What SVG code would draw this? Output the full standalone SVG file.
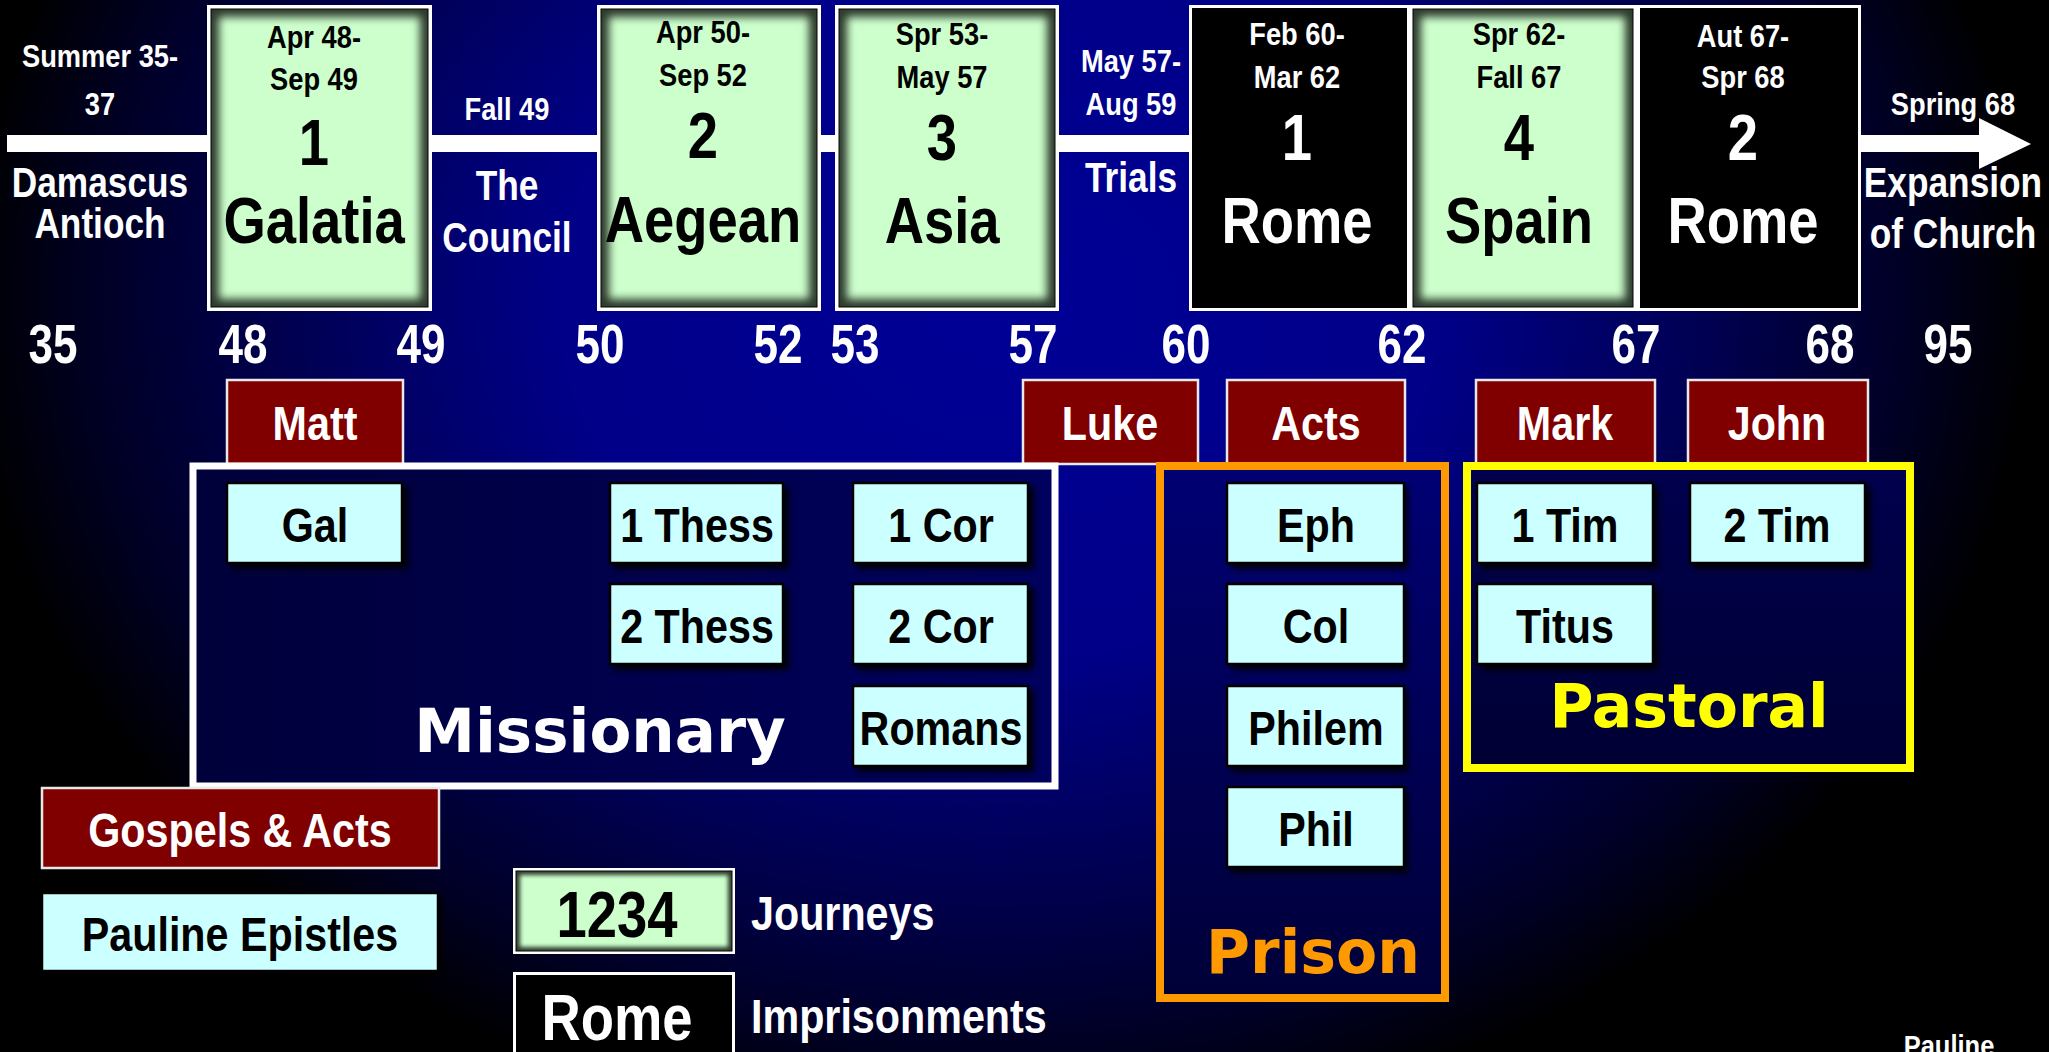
<svg xmlns="http://www.w3.org/2000/svg" width="2049" height="1052" viewBox="0 0 2049 1052">
<defs>
  <radialGradient id="bg" gradientUnits="userSpaceOnUse" cx="1000" cy="300" r="1100" gradientTransform="translate(1000,300) scale(1,0.82) translate(-1000,-300)">
    <stop offset="0" stop-color="#000096"/>
    <stop offset="0.4" stop-color="#000088"/>
    <stop offset="0.65" stop-color="#000050"/>
    <stop offset="0.82" stop-color="#000026"/>
    <stop offset="0.94" stop-color="#000000"/>
  </radialGradient>
  <linearGradient id="gMiss" x1="0" y1="0" x2="1" y2="0">
    <stop offset="0" stop-color="#00003a"/>
    <stop offset="1" stop-color="#00005e"/>
  </linearGradient>
  <linearGradient id="gPris" x1="0" y1="0" x2="0" y2="1">
    <stop offset="0" stop-color="#000074"/>
    <stop offset="1" stop-color="#000038"/>
  </linearGradient>
  <linearGradient id="gPast" x1="0" y1="0" x2="0" y2="1">
    <stop offset="0" stop-color="#00004e"/>
    <stop offset="1" stop-color="#000034"/>
  </linearGradient>
  <filter id="soft" x="-10%" y="-10%" width="120%" height="120%">
    <feGaussianBlur stdDeviation="4"/>
  </filter>
  <filter id="soft2" x="-10%" y="-10%" width="120%" height="120%">
    <feGaussianBlur stdDeviation="2"/>
  </filter>
  <filter id="shadow" x="-10%" y="-10%" width="130%" height="130%">
    <feGaussianBlur stdDeviation="3"/>
  </filter>
  <style>
    .n{font-family:"Liberation Sans",Arial,sans-serif;font-weight:bold;text-anchor:middle;transform-box:fill-box;transform-origin:center}
    .w{fill:#ffffff}
    .k{fill:#000000}
    .d{font-size:31px;transform:scaleX(0.88)}
    .big{font-size:64px;transform:scaleX(0.85)}
    .lab{font-size:42px;transform:scaleX(0.84)}
    .yr{font-size:55px;fill:#ffffff;transform:scaleX(0.8)}
    .bk{font-size:48px;transform:scaleX(0.86)}
    .st{text-anchor:start;transform-origin:left center}
    .grp{font-family:"DejaVu Sans",Verdana,sans-serif;font-weight:bold;text-anchor:middle}
    .white{fill:#ffffff}
    .dark{fill:#2d3b2d;stroke:#000;stroke-width:1}
    .green{fill:#ccffcc}
    .gos{fill:#800000;stroke:#e8e8e8;stroke-width:2.5}
    .ep{fill:#ccffff;stroke:#000;stroke-width:2.5}
    .sh{fill:#000;opacity:0.9}
    .jail{fill:#000;stroke:#fff;stroke-width:3}
  </style>
</defs>

<rect x="0" y="0" width="2049" height="1052" fill="url(#bg)"/>

<g id="connectors">
  <rect x="7" y="135" width="1975" height="17" fill="#ffffff"/>
  <polygon points="1979,118 2031,144 1979,169" fill="#ffffff"/>
</g>

<!-- period labels along timeline -->
<g id="period-early">
  <text class="n w d" x="100" y="67">Summer 35-</text>
  <text class="n w d" x="100" y="115">37</text>
  <text class="n w lab" x="100" y="197">Damascus</text>
  <text class="n w lab" x="100" y="238">Antioch</text>
</g>
<g id="period-council">
  <text class="n w d" x="507" y="120">Fall 49</text>
  <text class="n w lab" x="507" y="200">The</text>
  <text class="n w lab" x="507" y="252">Council</text>
</g>
<g id="period-trials">
  <text class="n w d" x="1131" y="72">May 57-</text>
  <text class="n w d" x="1131" y="115">Aug 59</text>
  <text class="n w lab" x="1131" y="192">Trials</text>
</g>
<g id="period-expansion">
  <text class="n w d" x="1953" y="115">Spring 68</text>
  <text class="n w lab" x="1953" y="197">Expansion</text>
  <text class="n w lab" x="1953" y="248">of Church</text>
</g>

<!-- journeys -->
<g id="journey1">
  <rect class="white" x="207" y="5" width="225" height="306"/>
  <rect class="dark" x="211" y="9" width="217" height="298"/>
  <rect class="green" x="219" y="17" width="201" height="282" filter="url(#soft)"/>
  <text class="n k d" x="314" y="48">Apr 48-</text>
  <text class="n k d" x="314" y="90">Sep 49</text>
  <text class="n k big" x="314" y="165">1</text>
  <text class="n k big" x="314" y="243">Galatia</text>
</g>
<g id="journey2">
  <rect class="white" x="597" y="5" width="224" height="306"/>
  <rect class="dark" x="601" y="9" width="216" height="298"/>
  <rect class="green" x="609" y="17" width="200" height="282" filter="url(#soft)"/>
  <text class="n k d" x="703" y="43">Apr 50-</text>
  <text class="n k d" x="703" y="86">Sep 52</text>
  <text class="n k big" x="703" y="158">2</text>
  <text class="n k big" x="703" y="242">Aegean</text>
</g>
<g id="journey3">
  <rect class="white" x="835" y="5" width="224" height="306"/>
  <rect class="dark" x="839" y="9" width="216" height="298"/>
  <rect class="green" x="847" y="17" width="200" height="282" filter="url(#soft)"/>
  <text class="n k d" x="942" y="45">Spr 53-</text>
  <text class="n k d" x="942" y="88">May 57</text>
  <text class="n k big" x="942" y="160">3</text>
  <text class="n k big" x="942" y="243">Asia</text>
</g>
<g id="rome1">
  <rect class="jail" x="1190.5" y="6.5" width="218" height="303"/>
  <text class="n w d" x="1297" y="45">Feb 60-</text>
  <text class="n w d" x="1297" y="88">Mar 62</text>
  <text class="n w big" x="1297" y="160">1</text>
  <text class="n w big" x="1297" y="243">Rome</text>
</g>
<g id="journey4">
  <rect class="white" x="1409" y="5" width="228" height="306"/>
  <rect class="dark" x="1413" y="9" width="220" height="298"/>
  <rect class="green" x="1421" y="17" width="204" height="282" filter="url(#soft)"/>
  <text class="n k d" x="1519" y="45">Spr 62-</text>
  <text class="n k d" x="1519" y="88">Fall 67</text>
  <text class="n k big" x="1519" y="160">4</text>
  <text class="n k big" x="1519" y="243">Spain</text>
</g>
<g id="rome2">
  <rect class="jail" x="1638.5" y="6.5" width="221" height="303"/>
  <text class="n w d" x="1743" y="47">Aut 67-</text>
  <text class="n w d" x="1743" y="88">Spr 68</text>
  <text class="n w big" x="1743" y="160">2</text>
  <text class="n w big" x="1743" y="243">Rome</text>
</g>

<!-- years -->
<g id="years">
  <text class="n yr" x="53" y="363">35</text>
  <text class="n yr" x="243" y="363">48</text>
  <text class="n yr" x="421" y="363">49</text>
  <text class="n yr" x="600" y="363">50</text>
  <text class="n yr" x="778" y="363">52</text>
  <text class="n yr" x="855" y="363">53</text>
  <text class="n yr" x="1033" y="363">57</text>
  <text class="n yr" x="1186" y="363">60</text>
  <text class="n yr" x="1402" y="363">62</text>
  <text class="n yr" x="1636" y="363">67</text>
  <text class="n yr" x="1830" y="363">68</text>
  <text class="n yr" x="1948" y="363">95</text>
</g>

<!-- gospels -->
<g id="matt"><rect class="gos" x="227" y="380" width="176" height="84"/><text class="n w bk" x="315" y="440">Matt</text></g>
<g id="luke"><rect class="gos" x="1023" y="380" width="175" height="84"/><text class="n w bk" x="1110" y="440">Luke</text></g>
<g id="acts"><rect class="gos" x="1227" y="380" width="178" height="84"/><text class="n w bk" x="1316" y="440">Acts</text></g>
<g id="mark"><rect class="gos" x="1476" y="380" width="179" height="84"/><text class="n w bk" x="1565" y="440">Mark</text></g>
<g id="john"><rect class="gos" x="1688" y="380" width="180" height="84"/><text class="n w bk" x="1777" y="440">John</text></g>

<!-- groups of epistles -->
<g id="missionary">
  <rect x="193" y="466" width="862" height="320" fill="url(#gMiss)" stroke="#ffffff" stroke-width="7"/>
  <text class="grp" x="600" y="752" font-size="61" fill="#ffffff">Missionary</text>
</g>
<g id="prison">
  <rect x="1160" y="466" width="285" height="532" fill="url(#gPris)" stroke="#ff9900" stroke-width="8"/>
  <text class="grp" x="1313" y="973" font-size="60" fill="#ff9900">Prison</text>
</g>
<g id="pastoral">
  <rect x="1467" y="466" width="443" height="302" fill="url(#gPast)" stroke="#ffff00" stroke-width="8"/>
  <text class="grp" x="1689" y="727" font-size="60" fill="#ffff00">Pastoral</text>
</g>

<!-- epistles -->
<g id="gal"><rect class="sh" x="231" y="487" width="177" height="82" filter="url(#shadow)"/><rect class="ep" x="227" y="483" width="175" height="80"/><text class="n k bk" x="315" y="542">Gal</text></g>
<g id="thess1"><rect class="sh" x="614" y="487" width="175" height="82" filter="url(#shadow)"/><rect class="ep" x="610" y="483" width="173" height="80"/><text class="n k bk" x="697" y="542">1 Thess</text></g>
<g id="cor1"><rect class="sh" x="857" y="487" width="177" height="82" filter="url(#shadow)"/><rect class="ep" x="853" y="483" width="175" height="80"/><text class="n k bk" x="941" y="542">1 Cor</text></g>
<g id="thess2"><rect class="sh" x="614" y="588" width="175" height="82" filter="url(#shadow)"/><rect class="ep" x="610" y="584" width="173" height="80"/><text class="n k bk" x="697" y="643">2 Thess</text></g>
<g id="cor2"><rect class="sh" x="857" y="588" width="177" height="82" filter="url(#shadow)"/><rect class="ep" x="853" y="584" width="175" height="80"/><text class="n k bk" x="941" y="643">2 Cor</text></g>
<g id="romans"><rect class="sh" x="857" y="690" width="177" height="82" filter="url(#shadow)"/><rect class="ep" x="853" y="686" width="175" height="80"/><text class="n k bk" x="941" y="745">Romans</text></g>
<g id="eph"><rect class="sh" x="1231" y="487" width="177" height="82" filter="url(#shadow)"/><rect class="ep" x="1227" y="483" width="177" height="80"/><text class="n k bk" x="1316" y="542">Eph</text></g>
<g id="col"><rect class="sh" x="1231" y="588" width="177" height="82" filter="url(#shadow)"/><rect class="ep" x="1227" y="584" width="177" height="80"/><text class="n k bk" x="1316" y="643">Col</text></g>
<g id="philem"><rect class="sh" x="1231" y="690" width="177" height="82" filter="url(#shadow)"/><rect class="ep" x="1227" y="686" width="177" height="80"/><text class="n k bk" x="1316" y="745">Philem</text></g>
<g id="phil"><rect class="sh" x="1231" y="791" width="177" height="82" filter="url(#shadow)"/><rect class="ep" x="1227" y="787" width="177" height="80"/><text class="n k bk" x="1316" y="846">Phil</text></g>
<g id="tim1"><rect class="sh" x="1481" y="487" width="177" height="82" filter="url(#shadow)"/><rect class="ep" x="1477" y="483" width="176" height="80"/><text class="n k bk" x="1565" y="542">1 Tim</text></g>
<g id="tim2"><rect class="sh" x="1694" y="487" width="177" height="82" filter="url(#shadow)"/><rect class="ep" x="1690" y="483" width="175" height="80"/><text class="n k bk" x="1777" y="542">2 Tim</text></g>
<g id="titus"><rect class="sh" x="1481" y="588" width="177" height="82" filter="url(#shadow)"/><rect class="ep" x="1477" y="584" width="176" height="80"/><text class="n k bk" x="1565" y="643">Titus</text></g>

<!-- legend -->
<g id="legend-gospels"><rect class="gos" x="42" y="788" width="397" height="80"/><text class="n w bk" x="240" y="847">Gospels &amp; Acts</text></g>
<g id="legend-epistles"><rect class="sh" x="46" y="897" width="396" height="79" filter="url(#shadow)"/><rect class="ep" x="42" y="893" width="396" height="78" stroke="none"/><text class="n k bk" x="240" y="951">Pauline Epistles</text></g>
<g id="legend-journeys">
  <rect class="white" x="513" y="868" width="222" height="86"/>
  <rect class="dark" x="516" y="871" width="216" height="80"/>
  <rect class="green" x="520" y="875" width="208" height="72" filter="url(#soft2)"/>
  <text class="n k big" x="617" y="937">1234</text>
  <text class="n w bk st" x="751" y="930">Journeys</text>
</g>
<g id="legend-rome">
  <rect class="jail" x="514.5" y="973.5" width="219" height="90"/>
  <text class="n w big" x="617" y="1040">Rome</text>
  <text class="n w bk st" x="751" y="1033">Imprisonments</text>
</g>
<text class="n w" x="1949" y="1056" font-size="30" style="transform:scaleX(0.85)">Pauline</text>
</svg>
